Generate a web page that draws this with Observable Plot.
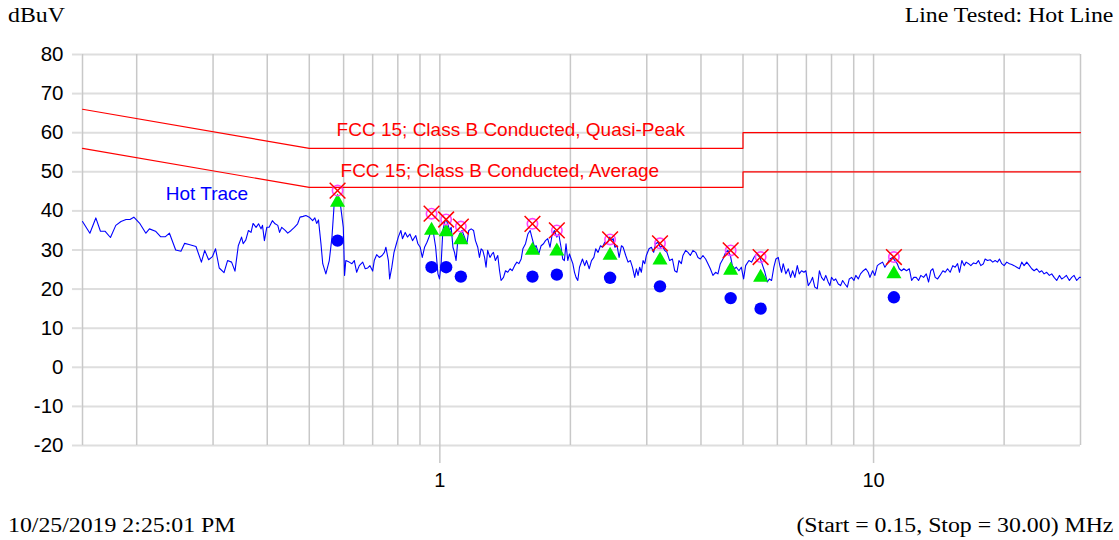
<!DOCTYPE html>
<html><head><meta charset="utf-8">
<script src="https://cdn.jsdelivr.net/npm/d3@7"></script>
<script src="https://cdn.jsdelivr.net/npm/@observablehq/plot@0.6"></script>
<style>
body{margin:0;background:#fff;}
#wrap{position:relative;width:1119px;height:540px;overflow:hidden;background:#fff;}
.serif{position:absolute;font-family:"Liberation Serif","Times New Roman",serif;font-size:20px;color:#000;white-space:nowrap;line-height:1;}
.l{transform:scaleX(1.19);transform-origin:left center;}
.r{transform:scaleX(1.19);transform-origin:right center;}
#chart{position:absolute;left:0;top:30px;}
</style></head><body>
<div id="wrap">
<div class="serif l" style="left:8px;top:5px">dBuV</div>
<div class="serif r" style="right:6px;top:5px">Line Tested: Hot Line</div>
<div id="chart"></div>
<div class="serif l" style="left:8px;top:515px">10/25/2019 2:25:01 PM</div>
<div class="serif r" style="right:6px;top:515px">(Start = 0.15, Stop = 30.00) MHz</div>
</div>
<script>
// Hot trace (MHz, dBuV)
const traceMHz = [0.150,0.156,0.161,0.165,0.169,0.174,0.179,0.184,0.189,0.193,0.197,0.203,0.210,0.214,0.221,0.227,0.233,0.238,0.246,0.253,0.258,0.264,0.274,0.282,0.287,0.293,0.299,0.304,0.310,0.318,0.324,0.331,0.337,0.343,0.349,0.352,
0.357,0.362,0.367,0.371,0.377,0.382,0.387,0.390,0.394,0.399,0.404,0.411,0.417,0.423,0.427,0.432,0.440,0.446,0.454,0.462,0.470,0.476,0.484,0.491,0.500,0.509,0.515,0.520,0.525,0.532,0.537,0.546,0.556,0.564,0.571,0.581,0.591,0.599,0.603,0.607,0.618,0.627,0.635,0.643,0.652,0.664,0.673,0.682,0.690,0.700,0.706,0.715,0.725,0.736,0.745,0.751,0.761,0.766,0.775,0.784,0.794,0.802,0.813,0.820,0.832,0.842,0.853,0.865,0.880,0.890,
0.901,0.911,0.922,0.934,0.947,0.960,0.978,0.990,0.998,1.007,1.016,1.031,1.043,1.053,1.062,1.072,1.081,1.090,1.100,1.110,1.125,1.140,1.154,1.166,1.181,1.196,1.208,1.223,1.234,1.245,1.256,1.268,1.278,1.289,1.305,1.319,1.329,1.343,1.360,1.373,1.384,1.402,1.417,1.434,1.452,1.468,1.487,1.505,1.521,1.540,1.554,1.576,1.596,1.615,1.633,1.653,1.667,1.691,1.712,1.734,1.752,1.773,1.795,1.814,1.837,1.860,1.880,1.903,1.920,1.937,1.954,1.972,1.990,2.008,2.026,2.044,2.061,2.080,2.099,
2.132,2.158,2.179,2.210,2.237,2.265,2.288,2.316,2.346,2.371,2.400,2.430,2.465,2.487,2.510,2.532,2.562,2.590,2.623,2.646,2.683,2.716,2.750,2.780,2.814,2.839,2.864,2.889,2.915,2.941,2.968,2.993,3.036,3.074,3.112,3.145,3.184,3.224,3.259,3.299,3.339,3.387,3.437,3.479,3.521,3.559,3.604,3.635,3.687,3.733,3.780,3.833,3.889,3.937,3.987,4.042,4.100,4.151,4.204,4.262,4.324,4.377,4.433,4.495,4.560,4.616,4.675,4.725,4.782,4.826,4.893,4.955,5.016,5.070,5.160,5.234,
5.30,5.375,5.47,5.55,5.617,5.689,5.75,5.82,5.89,5.954,6.03,6.08,6.137,6.19,6.278,6.36,6.437,6.506,6.585,6.67,6.74,6.823,6.91,6.98,7.07,7.156,7.233,7.32,7.417,7.50,7.587,7.68,7.76,7.86,7.93,8.00,8.10,8.18,8.292,8.395,8.485,8.59,8.70,8.79,8.90,9.01,9.10,9.22,9.33,9.47,9.60,9.72,9.81,9.95,10.07,10.20,10.34,10.49,10.62,10.75,10.90,11.06,11.20,11.34,11.46,11.60,11.74,11.91,12.09,12.24,12.38,
12.54,12.70,12.85,13.04,13.23,13.39,13.55,13.70,13.87,14.05,14.23,14.45,14.63,14.81,15.02,15.23,15.42,15.62,15.78,15.98,16.18,16.35,16.56,16.76,17.00,17.24,17.45,17.67,17.92,18.08,18.31,18.57,18.83,19.07,19.31,19.51,19.75,20.00,20.28,20.57,20.83,21.09,21.39,21.69,21.96,22.24,22.55,22.88,23.16,23.45,23.78,24.12,24.42,24.73,25.07,25.43,25.75,26.08,26.44,26.82,27.15,27.50,27.84,28.28,28.63,28.99,29.40,29.84,30.00];
const traceDb = [37.3,34.3,38.2,34.8,34.8,33.2,36.3,37.3,37.8,37.8,38.4,36.9,34.3,35.4,34.8,33.4,33.4,34.3,30.0,29.7,31.7,31.4,30.9,26.9,29.9,27.5,28.3,30.3,25.4,24.2,27.3,26.9,24.6,31.1,33.3,31.6,
32.6,35.0,34.5,36.8,35.8,36.7,35.4,36.3,32.4,35.8,35.8,37.5,36.7,36.3,34.5,35.8,35.0,34.3,35.0,35.8,36.7,38.4,38.6,38.8,38.4,37.5,38.2,36.8,37.7,31.6,26.5,23.9,27.3,33.3,42.2,43.4,40.9,35.8,23.5,27.3,26.9,26.5,27.3,24.3,26.0,26.9,25.2,25.4,26.0,24.6,27.3,28.8,28.1,28.6,29.4,30.7,27.3,22.6,25.6,29.4,31.6,33.3,35.0,32.9,34.5,33.3,34.1,32.4,33.7,31.6,
30.7,28.1,30.7,32.0,33.7,36.5,30.7,23.9,22.6,26.5,35.0,38.0,36.7,35.0,35.8,30.7,29.4,27.3,32.4,34.1,35.0,33.3,31.6,35.0,35.4,35.0,32.4,30.7,28.1,30.3,29.9,28.1,25.6,29.9,28.1,29.0,29.4,27.3,28.6,24.7,22.2,23.0,24.7,24.3,25.2,24.7,26.0,26.9,26.5,27.7,30.3,31.6,34.1,35.0,32.9,30.7,31.1,29.0,31.1,31.6,32.4,32.9,30.7,33.7,35.0,33.3,34.1,30.7,27.7,27.3,31.6,27.3,29.0,27.7,26.5,24.3,23.0,22.2,25.6,
27.7,26.0,27.3,25.2,27.3,28.1,30.3,29.4,31.1,30.7,32.0,31.6,33.3,32.4,32.9,30.7,31.1,28.1,31.1,30.7,28.6,26.9,27.3,25.6,23.0,25.2,23.5,25.6,24.3,27.3,26.5,28.6,30.3,30.7,29.4,31.6,32.0,30.7,31.1,29.9,29.4,27.3,27.7,24.7,24.3,27.3,26.5,28.6,29.9,29.4,28.6,29.9,29.4,28.1,27.7,28.6,27.7,26.5,25.2,23.5,24.3,23.9,26.5,27.7,29.4,29.9,28.6,26.0,25.2,25.6,24.7,25.6,22.6,26.0,27.3,26.9,
28.1,29.0,28.1,26.0,24.3,21.8,22.6,22.2,25.6,27.7,28.1,26.0,24.3,26.5,23.9,25.2,23.0,24.7,23.0,26.0,23.9,24.7,24.3,24.7,20.9,21.8,23.0,20.5,20.1,24.7,23.0,22.2,23.5,21.8,20.9,23.0,22.2,22.6,21.3,20.9,22.2,21.3,20.5,22.6,23.0,22.2,23.5,22.6,23.9,24.7,25.2,24.3,23.0,24.7,23.5,26.0,26.5,26.9,25.6,26.5,27.7,28.1,27.3,26.5,25.2,24.7,25.2,24.7,25.2,22.2,23.0,
23.0,22.2,23.5,23.0,23.9,21.8,24.7,25.2,23.0,22.6,23.5,24.7,24.3,25.2,24.3,26.0,25.6,26.5,24.3,27.3,26.0,26.9,26.5,26.0,26.7,26.5,27.3,26.0,26.5,27.7,27.3,27.5,26.9,27.3,26.9,27.7,26.5,26.0,26.9,26.5,26.3,26.0,25.6,25.2,26.9,26.0,26.9,26.0,25.2,24.7,25.2,24.3,24.7,23.9,24.3,23.5,23.9,23.0,22.2,23.5,22.6,23.0,23.5,22.2,23.0,23.5,22.2,23.0,23.0];

// FCC 15 Class B conducted limits
const limitMHz = [0.15, 0.5, 5, 5, 30];
const qpLimitDb = [66, 56, 56, 60, 60];
const avgLimitDb = [56, 46, 46, 50, 50];

// Final measurements
const markMHz = [0.581, 0.957, 1.034, 1.118, 1.635, 1.861, 2.469, 3.218, 4.683, 5.490, 11.14];
const peakDb  = [45.2, 39.3, 37.8, 36.0, 36.7, 35.0, 32.7, 31.7, 29.9, 28.2, 28.2];
const qpDb    = [42.2, 35.0, 34.6, 32.6, 29.9, 29.7, 28.6, 27.4, 24.8, 23.0, 23.9];
const avgDb   = [32.4, 25.6, 25.6, 23.2, 23.2, 23.7, 22.9, 20.7, 17.7, 15.0, 17.9];

// Axes
const yTicks = [80, 70, 60, 50, 40, 30, 20, 10, 0, -10, -20];
const gridMHz = [0.15,0.2,0.3,0.4,0.5,0.6,0.7,0.8,0.9,1,2,3,4,5,6,7,8,9,10,20,30];
const xLabelTicks = [1, 10];
const labelTexts = ["FCC 15; Class B Conducted, Quasi-Peak", "FCC 15; Class B Conducted, Average", "Hot Trace"];

const trace = traceMHz.map((f, i) => ({f, v: traceDb[i]}));
const qpLine = limitMHz.map((f, i) => ({f, v: qpLimitDb[i]}));
const avgLine = limitMHz.map((f, i) => ({f, v: avgLimitDb[i]}));
const meas = markMHz.map((f, i) => ({f, peak: peakDb[i], qp: qpDb[i], avg: avgDb[i]}));

const chart = Plot.plot({
  width: 1119, height: 470,
  marginTop: 24, marginBottom: 55, marginLeft: 82, marginRight: 39,
  style: {fontFamily: '"Liberation Sans", Arial, sans-serif', background: "#fff", overflow: "visible"},
  x: {type: "log", domain: [0.15, 30]},
  y: {domain: [-20, 80]},
  marks: [
    Plot.ruleY(yTicks, {stroke: "#dedede", strokeWidth: 2}),
    Plot.ruleX(gridMHz, {stroke: "#c8c8c8", strokeWidth: 1.5}),
    Plot.axisY({ticks: yTicks, tickSize: 10, tickPadding: 9, stroke: "#dedede", strokeWidth: 2, fill: "#000", fontSize: 20.5, tickFormat: d => String(d), label: null}),
    Plot.axisX({ticks: xLabelTicks, tickSize: 18, tickPadding: 9, stroke: "#c8c8c8", strokeWidth: 1.5, fill: "#000", fontSize: 20, tickFormat: d => String(d), label: null}),
    Plot.line(qpLine, {x: "f", y: "v", stroke: "#ff0000", strokeWidth: 1.2}),
    Plot.line(avgLine, {x: "f", y: "v", stroke: "#ff0000", strokeWidth: 1.2}),
    Plot.line(trace, {x: "f", y: "v", stroke: "#0000ff", strokeWidth: 1.1}),
    Plot.dot(meas, {x: "f", y: "avg", r: 6.2, fill: "#0000ff"}),
    Plot.dot(meas, {x: "f", y: "qp", symbol: "triangle", r: 5.6, fill: "#00ee00"}),
    Plot.dot(meas, {x: "f", y: "peak", r: 5.2, stroke: "#ff44ff", strokeWidth: 1.6, fill: "none"}),
    Plot.dot(meas, {x: "f", y: "peak", symbol: "times", r: 7.2, stroke: "#ff0000", strokeWidth: 1.5}),
    Plot.text([labelTexts[0]], {x: 1.458, y: 60.6, text: d => d, fill: "#ff0000", fontSize: 19}),
    Plot.text([labelTexts[1]], {x: 1.375, y: 50.3, text: d => d, fill: "#ff0000", fontSize: 19}),
    Plot.text([labelTexts[2]], {x: 0.2904, y: 44.4, text: d => d, fill: "#0000ff", fontSize: 19})
  ]
});
document.getElementById("chart").appendChild(chart);
</script>
</body></html>
